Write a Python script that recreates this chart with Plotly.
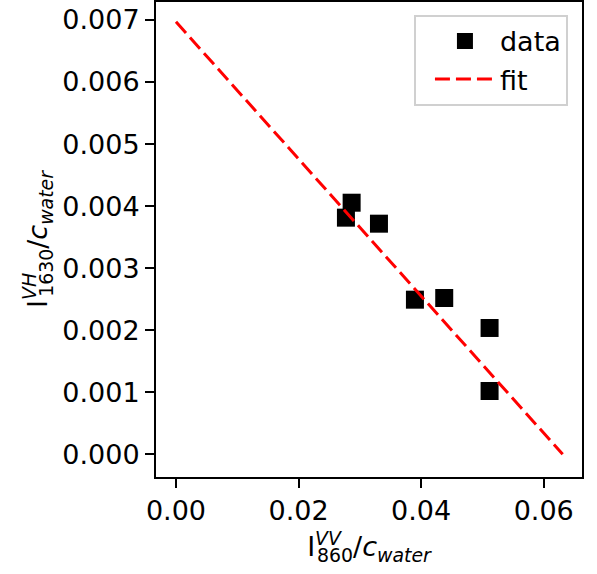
import plotly.graph_objects as go

# data
data_x = [0.02866, 0.02773, 0.03312, 0.03899, 0.04377, 0.05117, 0.05117]
data_y = [0.004055, 0.003814, 0.003717, 0.002492, 0.002519, 0.002036, 0.001020]
fit_x = [0.0, 0.0631]
fit_y = [0.00697, 0.0]
x_ticks = [0.0, 0.02, 0.04, 0.06]
x_ticklabels = ["0.00", "0.02", "0.04", "0.06"]
y_ticks = [0.0, 0.001, 0.002, 0.003, 0.004, 0.005, 0.006, 0.007]
y_ticklabels = ["0.000", "0.001", "0.002", "0.003", "0.004", "0.005", "0.006", "0.007"]

FONT = "DejaVu Sans"
FS = 27

fig = go.Figure()
fig.add_trace(go.Scatter(x=data_x, y=data_y, mode="markers", name="data",
                         marker=dict(symbol="square", size=18, color="black",
                                     line=dict(width=0))))
fig.add_trace(go.Scatter(x=fit_x, y=fit_y, mode="lines", name="fit",
                         line=dict(color="red", width=3, dash="15px,6px")))

axis_common = dict(showline=True, linecolor="black", linewidth=2, mirror=True,
                   ticks="outside", ticklen=9, tickwidth=2, tickcolor="black",
                   showgrid=False, zeroline=False, automargin=False,
                   tickfont=dict(family=FONT, size=FS, color="black"))

xtitle = ('I<sup><i>V<span style="letter-spacing:-24px">V</span></i></sup>'
          '<sub>860</sub>/<i>c</i><sub><i>water</i></sub>')
ytitle = ('I<sup><i>V<span style="letter-spacing:-24px">H</span></i></sup>'
          '<sub>1630</sub>/<i>c</i><sub><i>water</i></sub>')

fig.update_layout(
    template="none",
    width=597, height=574,
    margin=dict(l=156, r=15, t=2, b=97, autoexpand=False),
    paper_bgcolor="white", plot_bgcolor="white",
    font=dict(family=FONT, size=FS, color="black"),
    xaxis=dict(range=[-0.00326, 0.06625], tickvals=x_ticks, ticktext=x_ticklabels,
               title=dict(text=xtitle, font=dict(family=FONT, size=FS), standoff=12),
               **axis_common),
    yaxis=dict(range=[-0.000366, 0.00729], tickvals=y_ticks, ticktext=y_ticklabels,
               title=dict(text=ytitle, font=dict(family=FONT, size=FS), standoff=7),
               **axis_common),
    legend=dict(x=0.967, y=0.973, xanchor="right", yanchor="top",
                bgcolor="white", bordercolor="#d0d0d0", borderwidth=2,
                font=dict(family=FONT, size=FS), itemwidth=60, indentation=14),
    showlegend=True,
)

fig.write_html("out.html", post_script="document.body.style.margin='0';",
               config={"displayModeBar": False})
